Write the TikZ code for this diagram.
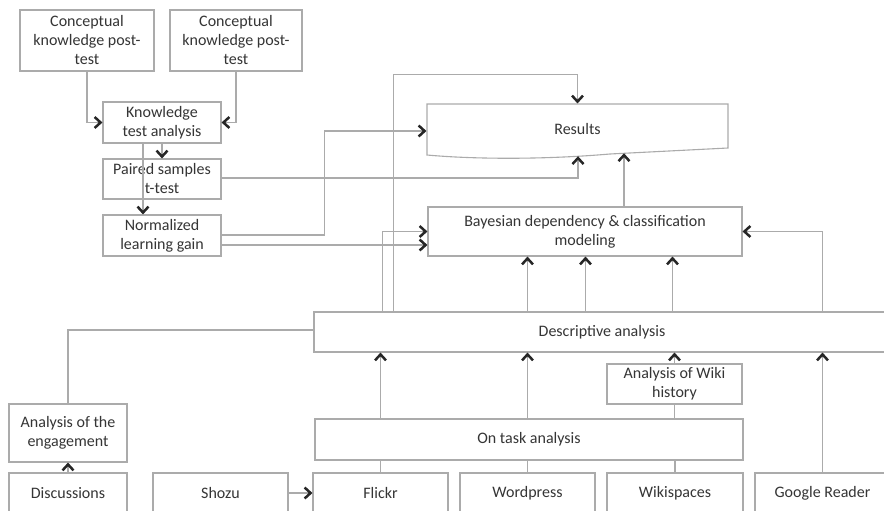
\documentclass[tikz,border=0pt]{standalone}
\usepackage{fontspec}
\setmainfont{Carlito}
\usetikzlibrary{arrows.meta}
\definecolor{edge}{HTML}{ABABAB}
\definecolor{ink}{HTML}{353535}
\definecolor{tipc}{HTML}{262626}

\begin{document}
\begin{tikzpicture}[x=1pt,y=-1pt,
  box/.style={draw=edge, line width=1.1pt, fill=white, text=ink, align=center,
              inner sep=0pt, font=\fontsize{16}{19}\selectfont},
  link/.style={draw=edge, line width=1.1pt},
  arr/.style={link, -{Straight Barb[length=6pt,width=11pt,line width=2.5pt,color=tipc]}},
]
\useasboundingbox (0,0) rectangle (884,511);

% knowledge test branch
\node[box, minimum width=134pt, minimum height=61pt] (ck1) at (87,40.5)
  {Conceptual\\knowledge post-\\test};
\node[box, minimum width=132pt, minimum height=61pt] (ck2) at (236,40.5)
  {Conceptual\\knowledge post-\\test};
\node[box, minimum width=118pt, minimum height=41pt] (kta) at (162,122.5)
  {Knowledge\\test analysis};
\node[box, minimum width=118pt, minimum height=40pt] (pst) at (162,179)
  {Paired samples\\t-test};
\node[box, minimum width=118pt, minimum height=41pt] (nlg) at (162,235.5)
  {Normalized\\learning gain};

% results (document shape with a wavy lower edge)
\draw[link, fill=white] (427,104) -- (728,104) -- (728,148) -- (610,154)
  .. controls (540,160) and (470,159) .. (427,155) -- cycle;
\node[box, draw=none, fill=none, minimum width=301pt, minimum height=52pt] (res) at (577.5,129) {Results};
\coordinate (resb1) at (578,156.2);
\coordinate (resb2) at (624,153.3);

% modeling and analysis stages
\node[box, minimum width=314pt, minimum height=49pt] (bay) at (585,231.5)
  {Bayesian dependency \& classification\\modeling};
\node[box, minimum width=576pt, minimum height=40pt] (desc) at (602,332)
  {Descriptive analysis};
\node[box, minimum width=135pt, minimum height=40pt] (wiki) at (674.5,384)
  {Analysis of Wiki\\history};
\node[box, minimum width=428pt, minimum height=41pt] (ota) at (529,439.5)
  {On task analysis};
\node[box, minimum width=118pt, minimum height=58pt] (eng) at (68,433)
  {Analysis of the\\engagement};

% data sources
\node[box, minimum width=118pt, minimum height=40pt] (disc) at (68,493) {Discussions};
\node[box, minimum width=135pt, minimum height=40pt] (shozu) at (220.5,493) {Shozu};
\node[box, minimum width=135pt, minimum height=40pt] (flickr) at (380.5,493) {Flickr};
\node[box, minimum width=135pt, minimum height=40pt] (wp) at (527.5,493) {Wordpress};
\node[box, minimum width=136pt, minimum height=40pt] (wsp) at (675,493) {Wikispaces};
\node[box, minimum width=135pt, minimum height=40pt] (gr) at (822.5,493) {Google Reader};

% connectors: knowledge tests
\draw[arr] (ck1.south) |- (kta.west);
\draw[arr] (ck2.south) |- (kta.east);
\draw[arr] (kta.south) -- (pst.north);
\draw[arr] ([xshift=-19pt]kta.south) -- ([xshift=-19pt]nlg.north);
\draw[arr] ([yshift=1pt]pst.east) -| (resb1);
\draw[arr] ([yshift=0.5pt]nlg.east) -- ++(103,0) |- ([yshift=-2pt]res.west);
\draw[arr] ([yshift=-9.5pt]nlg.east) -- ([yshift=-9.5pt]nlg.east -| bay.west);

% connectors: descriptive analysis upwards
\draw[arr] ([xshift=69pt]desc.north west) |- (bay.west);
\draw[arr] ([xshift=80pt]desc.north west) |- ([yshift=28pt]res.north) -- ([yshift=-1pt]res.north);
\draw[arr] (desc.north -| wp) -- (bay.south -| wp);
\draw[arr] ([xshift=0.5pt]desc.north -| bay) -- ([xshift=0.5pt]bay.south);
\draw[arr] ([xshift=-2pt]desc.north -| wiki) -- ([xshift=-2pt]bay.south -| wiki);
\draw[arr] (desc.north -| gr) |- (bay.east);
\draw[arr] (bay.north -| resb2) -- (resb2);
\draw[link] ([yshift=2pt]desc.west) -| (eng.north);

% connectors: sources and intermediate analyses
\draw[arr] (disc.north) -- (eng.south);
\draw[arr] (shozu.east) -- (flickr.west);
\draw[link] (flickr.north) -- (flickr.north |- ota.south);
\draw[link] (wp.north) -- (wp.north |- ota.south);
\draw[link] (wsp.north) -- (wsp.north |- ota.south);
\draw[arr] (ota.north -| flickr) -- (desc.south -| flickr);
\draw[arr] (ota.north -| wp) -- (desc.south -| wp);
\draw[link] (ota.north -| wiki) -- (wiki.south);
\draw[arr] (wiki.north) -- (desc.south -| wiki);
\draw[arr] (gr.north) -- (desc.south -| gr);
\end{tikzpicture}
\end{document}
